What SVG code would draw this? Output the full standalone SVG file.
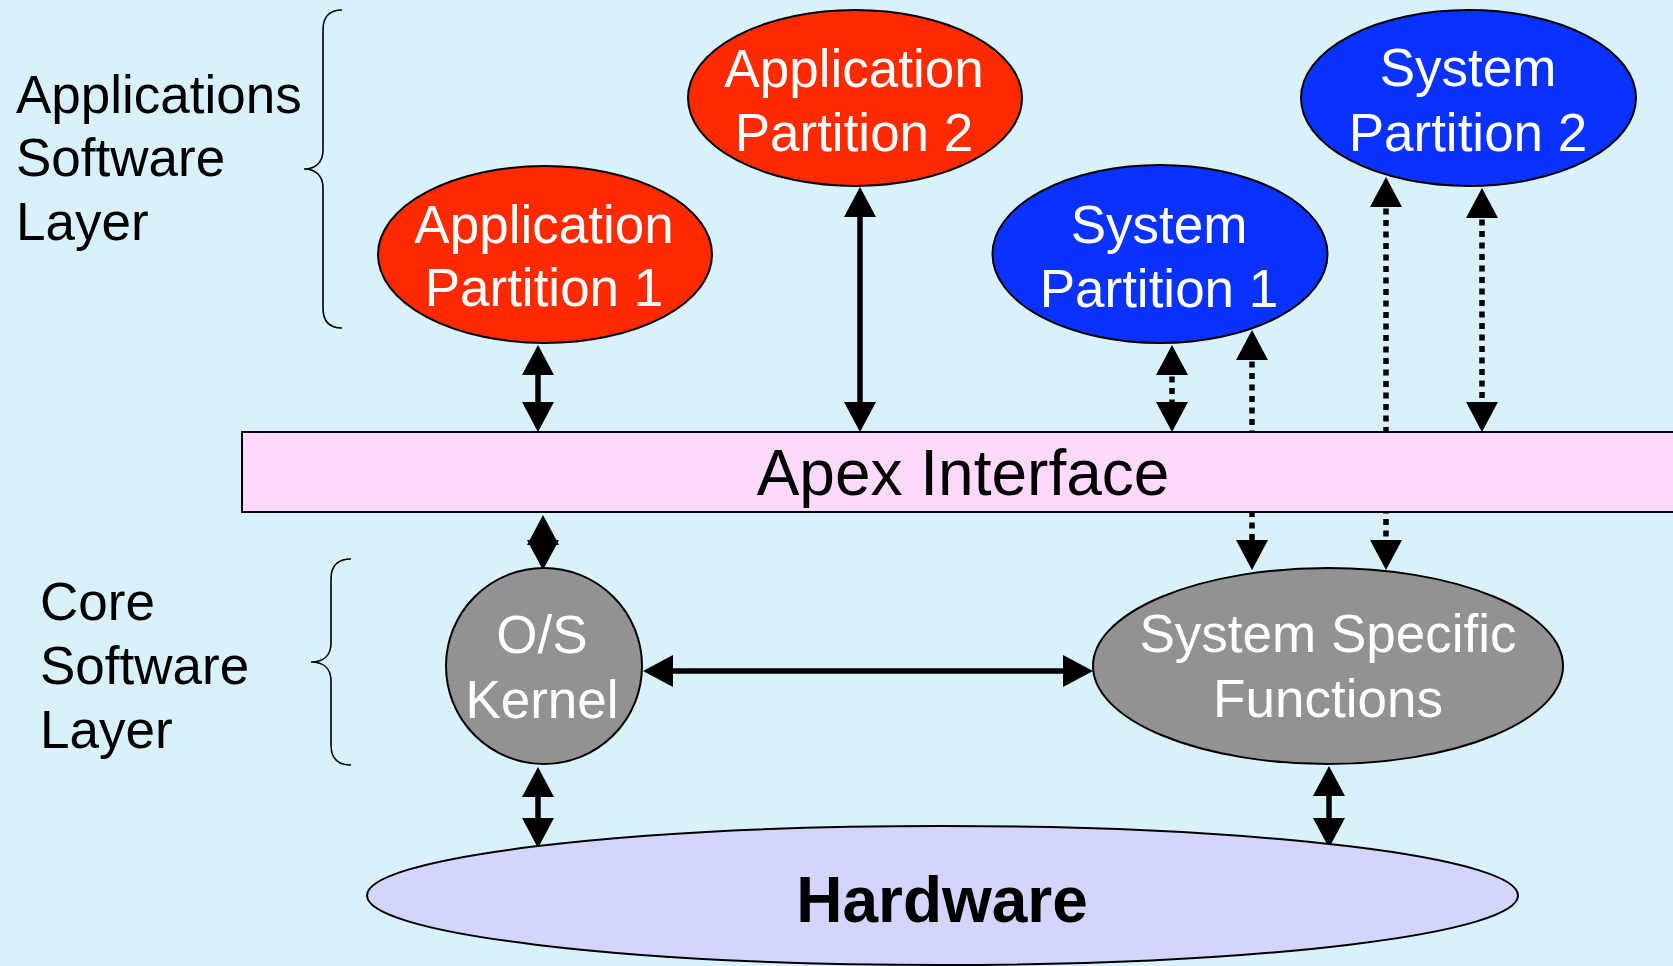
<svg xmlns="http://www.w3.org/2000/svg" width="1673" height="966" viewBox="0 0 1673 966">
<style>
.t{font-family:"Liberation Sans",Arial,sans-serif;font-size:53px}
.w{fill:#ffffff;text-anchor:middle}
.k{fill:#000000}
.node{stroke:#000000;stroke-width:2}
.c{stroke:#000000;stroke-width:5.5;fill:none}
.d{stroke-dasharray:6 5.5}
.br{fill:none;stroke:#000000;stroke-width:1.6}
</style>
<defs>
<marker id="ah" viewBox="0 0 30 32" markerWidth="30" markerHeight="32" refX="10" refY="16" markerUnits="userSpaceOnUse" orient="auto-start-reverse">
<path d="M0,0 L30,16 L0,32 z" fill="#000000"/>
</marker>
</defs>
<rect x="0" y="0" width="1673" height="966" fill="#D8F1FC"/>
<g id="labels">
<path class="br" d="M342,10 C330,10 323,16 323,30 L323,150 C323,162 316,169 304,169 C316,169 323,176 323,188 L323,308 C323,322 330,328 342,328"/>
<text class="t k" x="16" y="113">Applications</text>
<text class="t k" x="16" y="176">Software</text>
<text class="t k" x="16" y="240">Layer</text>
<path class="br" d="M351,559 C339,559 331,565 331,579 L331,643 C331,655 324,662 311,662 C324,662 331,669 331,681 L331,745 C331,759 339,765 351,765"/>
<text class="t k" x="40" y="620">Core</text>
<text class="t k" x="40" y="684">Software</text>
<text class="t k" x="40" y="748">Layer</text>
</g>
<g id="connectors">
<line class="c" x1="538" y1="365" x2="538" y2="412" marker-start="url(#ah)" marker-end="url(#ah)"/>
<line class="c" x1="860" y1="207" x2="860" y2="412" marker-start="url(#ah)" marker-end="url(#ah)"/>
<line class="c d" x1="1172" y1="365" x2="1172" y2="412" marker-start="url(#ah)" marker-end="url(#ah)"/>
<line class="c d" x1="1252" y1="350" x2="1252" y2="550" marker-start="url(#ah)" marker-end="url(#ah)"/>
<line class="c d" x1="1386" y1="197" x2="1386" y2="550" marker-start="url(#ah)" marker-end="url(#ah)"/>
<line class="c d" x1="1482" y1="208" x2="1482" y2="412" marker-start="url(#ah)" marker-end="url(#ah)"/>
<line class="c" x1="543" y1="535" x2="543" y2="550" marker-start="url(#ah)" marker-end="url(#ah)"/>
<line class="c" x1="663" y1="671" x2="1073" y2="671" marker-start="url(#ah)" marker-end="url(#ah)"/>
<line class="c" x1="538" y1="787" x2="538" y2="828" marker-start="url(#ah)" marker-end="url(#ah)"/>
<line class="c" x1="1329" y1="786" x2="1329" y2="828" marker-start="url(#ah)" marker-end="url(#ah)"/>
</g>
<g id="apex">
<rect class="node" x="242" y="432" width="1440" height="80" fill="#FDD9FD"/>
<text class="t" x="963" y="495" style="font-size:64px;text-anchor:middle;fill:#000000">Apex Interface</text>
</g>
<g id="app1">
<ellipse class="node" cx="545" cy="254.5" rx="167" ry="88.5" fill="#FF2A00"/>
<text class="t w" x="544" y="243">Application</text>
<text class="t w" x="544" y="306">Partition 1</text>
</g>
<g id="app2">
<ellipse class="node" cx="855" cy="98" rx="167" ry="88" fill="#FF2A00"/>
<text class="t w" x="854" y="87">Application</text>
<text class="t w" x="854" y="151">Partition 2</text>
</g>
<g id="sys1">
<ellipse class="node" cx="1160" cy="254" rx="167.5" ry="89" fill="#0A32FF"/>
<text class="t w" x="1159" y="243">System</text>
<text class="t w" x="1159" y="307">Partition 1</text>
</g>
<g id="sys2">
<ellipse class="node" cx="1468.5" cy="98" rx="167.5" ry="88" fill="#0A32FF"/>
<text class="t w" x="1468" y="86">System</text>
<text class="t w" x="1468" y="151">Partition 2</text>
</g>
<g id="kernel">
<circle class="node" cx="544" cy="666" r="98" fill="#929292"/>
<text class="t w" x="542" y="653">O/S</text>
<text class="t w" x="542" y="718">Kernel</text>
</g>
<g id="ssf">
<ellipse class="node" cx="1328" cy="666" rx="235" ry="98" fill="#929292"/>
<text class="t w" x="1328" y="652">System Specific</text>
<text class="t w" x="1328" y="717">Functions</text>
</g>
<g id="hardware">
<ellipse class="node" cx="942.5" cy="895.5" rx="575.5" ry="69.5" fill="#D4D5FC"/>
<text class="t" x="942" y="922" style="font-size:64px;font-weight:bold;text-anchor:middle;fill:#000000">Hardware</text>
</g>
</svg>
